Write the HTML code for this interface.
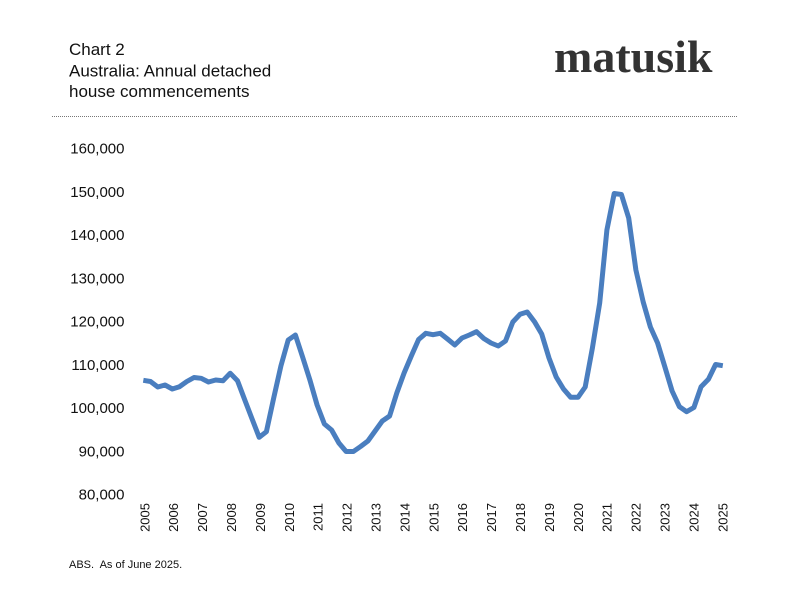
<!DOCTYPE html>
<html>
<head>
<meta charset="utf-8">
<style>
  html, body { margin:0; padding:0; background:#ffffff; }
  body { width:800px; height:601px; overflow:hidden; }
  svg { display:block; }
</style>
</head>
<body>
<svg width="800" height="601" viewBox="0 0 800 601" xmlns="http://www.w3.org/2000/svg">
  <rect width="800" height="601" fill="#ffffff"/>
  <!-- Title -->
  <g font-family="Liberation Sans, sans-serif" font-size="17" fill="#111">
    <text x="69" y="55">Chart 2</text>
    <text x="69" y="76.5">Australia: Annual detached</text>
    <text x="69" y="97">house commencements</text>
  </g>
  <!-- Logo -->
  <text x="554" y="72" font-family="Liberation Serif, serif" font-weight="bold" font-size="46" fill="#333333">matusik</text>
  <!-- Dotted separator -->
  <line x1="52" y1="116.5" x2="737" y2="116.5" stroke="#777" stroke-width="1" stroke-dasharray="1 1"/>

  <!-- Y axis labels -->
  <g font-family="Liberation Sans, sans-serif" font-size="15" fill="#111" text-anchor="end">
    <text x="124.5" y="153.6">160,000</text>
    <text x="124.5" y="196.8">150,000</text>
    <text x="124.5" y="240.1">140,000</text>
    <text x="124.5" y="283.3">130,000</text>
    <text x="124.5" y="326.6">120,000</text>
    <text x="124.5" y="369.8">110,000</text>
    <text x="124.5" y="413.1">100,000</text>
    <text x="124.5" y="456.3">90,000</text>
    <text x="124.5" y="499.6">80,000</text>
  </g>

  <!-- X axis labels -->
  <g font-family="Liberation Sans, sans-serif" font-size="13" fill="#111" text-anchor="end">
    <text transform="translate(149.3,503) rotate(-90)">2005</text>
    <text transform="translate(178.2,503) rotate(-90)">2006</text>
    <text transform="translate(207.1,503) rotate(-90)">2007</text>
    <text transform="translate(236.0,503) rotate(-90)">2008</text>
    <text transform="translate(264.9,503) rotate(-90)">2009</text>
    <text transform="translate(293.8,503) rotate(-90)">2010</text>
    <text transform="translate(322.7,503) rotate(-90)">2011</text>
    <text transform="translate(351.6,503) rotate(-90)">2012</text>
    <text transform="translate(380.5,503) rotate(-90)">2013</text>
    <text transform="translate(409.4,503) rotate(-90)">2014</text>
    <text transform="translate(438.3,503) rotate(-90)">2015</text>
    <text transform="translate(467.2,503) rotate(-90)">2016</text>
    <text transform="translate(496.1,503) rotate(-90)">2017</text>
    <text transform="translate(525.0,503) rotate(-90)">2018</text>
    <text transform="translate(553.9,503) rotate(-90)">2019</text>
    <text transform="translate(582.8,503) rotate(-90)">2020</text>
    <text transform="translate(611.7,503) rotate(-90)">2021</text>
    <text transform="translate(640.6,503) rotate(-90)">2022</text>
    <text transform="translate(669.5,503) rotate(-90)">2023</text>
    <text transform="translate(698.4,503) rotate(-90)">2024</text>
    <text transform="translate(727.3,503) rotate(-90)">2025</text>
  </g>

  <!-- Series -->
  <polyline fill="none" stroke="#4a7ebf" stroke-width="5" stroke-linejoin="round" stroke-linecap="butt"
    points="143.3,380.3 150.5,381.5 157.8,387 165.0,385 172.3,389 179.5,386.7 186.8,381.5 194.0,377.5 201.2,378.3 208.5,382 215.7,380 223.0,380.7 230.2,373.3 237.5,380.7 244.7,399.7 251.9,418.5 259.2,437.3 266.4,431.7 273.7,398 280.9,366 288.2,340 295.4,335 302.6,357 309.9,380 317.1,405 324.4,424 331.6,430 338.9,443 346.1,451.5 353.4,451.5 360.6,446.5 367.9,441 375.1,431 382.3,421 389.6,416 396.8,393 404.1,373 411.3,356 418.6,339.5 425.8,333.3 433.0,334.7 440.3,333.3 447.5,339 454.8,345 462.0,338 469.3,335 476.5,331.7 483.8,338.5 491.0,343 498.3,346 505.5,341 512.8,322 520.0,314.3 527.2,312 534.5,321.7 541.7,334 549.0,358 556.2,377 563.5,389 570.7,397.3 578.0,397.3 585.2,387 592.4,348 599.7,303 606.9,230 614.2,193.5 621.4,194.5 628.7,218 635.9,270 643.2,302 650.4,327 657.6,343 664.9,367 672.1,391 679.4,406.7 686.6,411.7 693.9,407.5 701.1,386.7 708.4,379.3 715.6,364.5 722.8,365.7"/>

  <!-- Footnote -->
  <text x="69" y="568" font-family="Liberation Sans, sans-serif" font-size="11" fill="#111" xml:space="preserve">ABS.  As of June 2025.</text>
</svg>
</body>
</html>
